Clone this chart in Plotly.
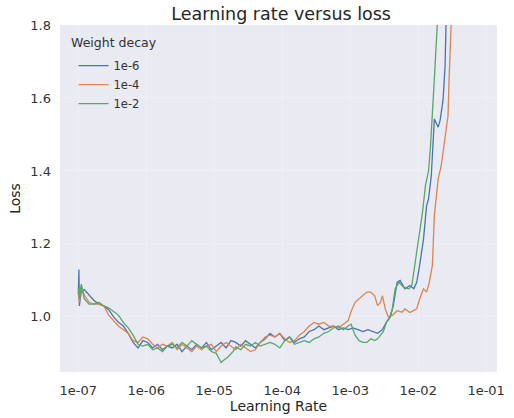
import plotly.graph_objects as go

# Learning-rate sweep (x) and smoothed loss (y)
lr_1e6 = [1.00e-07, 1.02e-07, 1.034e-07, 1.105e-07, 1.22e-07, 1.44e-07, 1.70e-07, 2.005e-07, 2.37e-07, 2.79e-07,
          3.30e-07, 3.89e-07, 4.59e-07, 5.42e-07, 6.39e-07, 7.55e-07, 8.91e-07, 1.05e-06, 1.24e-06, 1.46e-06,
          1.73e-06, 2.04e-06, 2.41e-06, 2.84e-06, 3.35e-06, 3.96e-06, 4.67e-06, 5.51e-06, 6.50e-06, 7.67e-06,
          9.05e-06, 1.07e-05, 1.26e-05, 1.49e-05, 1.76e-05, 2.07e-05, 2.45e-05, 2.89e-05, 3.41e-05, 4.02e-05,
          4.75e-05, 5.60e-05, 6.61e-05, 7.80e-05, 9.20e-05, 1.09e-04, 1.28e-04, 1.51e-04, 1.79e-04, 2.11e-04,
          2.49e-04, 2.94e-04, 3.46e-04, 4.09e-04, 4.83e-04, 5.69e-04, 6.72e-04, 7.93e-04, 9.36e-04, 1.10e-03,
          1.30e-03, 1.54e-03, 1.82e-03, 2.14e-03, 2.53e-03, 2.98e-03, 3.52e-03, 3.89e-03, 4.30e-03, 4.91e-03,
          5.42e-03, 6.39e-03, 7.55e-03, 8.62e-03, 9.52e-03, 1.05e-02, 1.20e-02, 1.33e-02, 1.42e-02, 1.56e-02,
          1.73e-02, 1.97e-02, 2.11e-02, 2.33e-02, 2.49e-02, 2.57e-02, 2.75e-02]
loss_1e6 = [1.06, 1.13, 1.03, 1.07, 1.075, 1.06, 1.045, 1.035, 1.03, 1.02,
            1.00, 0.985, 0.975, 0.955, 0.93, 0.915, 0.935, 0.93, 0.915, 0.925,
            0.91, 0.92, 0.915, 0.925, 0.905, 0.92, 0.91, 0.925, 0.915, 0.93,
            0.91, 0.92, 0.93, 0.915, 0.935, 0.93, 0.92, 0.935, 0.925, 0.915,
            0.93, 0.94, 0.955, 0.945, 0.955, 0.935, 0.945, 0.93, 0.94, 0.945,
            0.96, 0.965, 0.975, 0.965, 0.97, 0.975, 0.965, 0.97, 0.965, 0.97,
            0.965, 0.96, 0.965, 0.96, 0.955, 0.965, 0.99, 1.00, 1.03, 1.095,
            1.10, 1.077, 1.086, 1.077, 1.095, 1.141, 1.214, 1.305, 1.323, 1.387,
            1.542, 1.52, 1.54, 1.597, 1.689, 1.80, 2.00]

lr_1e4 = [1.00e-07, 1.034e-07, 1.105e-07, 1.22e-07, 1.44e-07, 1.70e-07, 2.005e-07, 2.37e-07, 2.79e-07,
          3.30e-07, 3.89e-07, 4.59e-07, 5.42e-07, 6.39e-07, 7.55e-07, 8.91e-07, 1.05e-06, 1.24e-06, 1.46e-06,
          1.73e-06, 2.04e-06, 2.41e-06, 2.84e-06, 3.35e-06, 3.96e-06, 4.67e-06, 5.51e-06, 6.50e-06, 7.67e-06,
          9.05e-06, 1.07e-05, 1.26e-05, 1.49e-05, 1.76e-05, 2.07e-05, 2.45e-05, 2.89e-05, 3.41e-05, 4.02e-05,
          4.75e-05, 5.60e-05, 6.61e-05, 7.80e-05, 9.20e-05, 1.09e-04, 1.28e-04, 1.51e-04, 1.79e-04, 2.11e-04,
          2.49e-04, 2.94e-04, 3.46e-04, 4.09e-04, 4.83e-04, 5.69e-04, 6.72e-04, 7.93e-04, 9.36e-04, 1.03e-03,
          1.18e-03, 1.35e-03, 1.54e-03, 1.76e-03, 2.01e-03, 2.29e-03, 2.53e-03, 2.79e-03, 2.98e-03, 3.30e-03,
          3.64e-03, 4.16e-03, 4.91e-03, 5.79e-03, 6.39e-03, 7.55e-03, 8.62e-03, 9.52e-03, 1.05e-02, 1.20e-02,
          1.33e-02, 1.46e-02, 1.62e-02, 1.73e-02, 1.97e-02, 2.18e-02, 2.33e-02, 2.49e-02, 2.75e-02, 2.84e-02,
          3.14e-02, 3.35e-02]
loss_1e4 = [1.07, 1.04, 1.085, 1.06, 1.04, 1.035, 1.035, 1.03, 1.005,
            0.99, 0.975, 0.965, 0.955, 0.935, 0.93, 0.945, 0.94, 0.925, 0.915,
            0.925, 0.92, 0.93, 0.91, 0.925, 0.915, 0.905, 0.92, 0.91, 0.92,
            0.925, 0.905, 0.92, 0.93, 0.92, 0.91, 0.925, 0.915, 0.905, 0.91,
            0.93, 0.945, 0.95, 0.945, 0.955, 0.94, 0.93, 0.935, 0.95, 0.96,
            0.975, 0.985, 0.98, 0.985, 0.975, 0.975, 0.97, 0.98, 0.99, 1.015,
            1.04, 1.05, 1.058, 1.068, 1.068, 1.058, 1.031, 1.04, 1.058, 1.02,
            1.00, 1.004, 1.017, 1.013, 1.022, 1.012, 1.018, 1.022, 1.049, 1.077,
            1.068, 1.095, 1.141, 1.277, 1.378, 1.414, 1.452, 1.488, 1.551, 1.643,
            1.80, 2.00]

lr_1e2 = [1.00e-07, 1.034e-07, 1.105e-07, 1.22e-07, 1.44e-07, 1.70e-07, 2.005e-07, 2.37e-07, 2.79e-07,
          3.30e-07, 3.89e-07, 4.59e-07, 5.42e-07, 6.39e-07, 7.55e-07, 8.91e-07, 1.05e-06, 1.24e-06, 1.46e-06,
          1.73e-06, 2.04e-06, 2.41e-06, 2.84e-06, 3.35e-06, 3.96e-06, 4.67e-06, 5.51e-06, 6.50e-06, 7.67e-06,
          9.05e-06, 1.07e-05, 1.26e-05, 1.39e-05, 1.59e-05, 1.88e-05, 2.07e-05, 2.45e-05, 2.89e-05, 3.41e-05,
          4.02e-05, 4.75e-05, 5.60e-05, 6.61e-05, 7.80e-05, 9.20e-05, 1.09e-04, 1.28e-04, 1.51e-04, 1.79e-04,
          2.11e-04, 2.49e-04, 2.94e-04, 3.46e-04, 4.09e-04, 4.83e-04, 5.69e-04, 6.72e-04, 7.93e-04, 9.36e-04,
          1.03e-03, 1.18e-03, 1.35e-03, 1.54e-03, 1.76e-03, 2.01e-03, 2.29e-03, 2.53e-03, 2.79e-03, 3.08e-03,
          3.41e-03, 3.76e-03, 4.16e-03, 4.59e-03, 5.24e-03, 6.19e-03, 7.30e-03, 8.06e-03, 8.62e-03, 9.52e-03,
          1.05e-02, 1.16e-02, 1.28e-02, 1.42e-02, 1.51e-02, 1.62e-02, 1.73e-02, 1.91e-02, 2.04e-02]
loss_1e2 = [1.08, 1.05, 1.09, 1.05, 1.035, 1.035, 1.04, 1.03, 1.025,
            1.015, 1.005, 0.985, 0.97, 0.95, 0.925, 0.92, 0.925, 0.91, 0.915,
            0.905, 0.92, 0.925, 0.915, 0.93, 0.92, 0.935, 0.925, 0.915, 0.92,
            0.905, 0.90, 0.875, 0.882, 0.89, 0.905, 0.918, 0.91, 0.925, 0.92,
            0.93, 0.92, 0.925, 0.93, 0.925, 0.915, 0.935, 0.945, 0.925, 0.93,
            0.935, 0.93, 0.94, 0.945, 0.955, 0.96, 0.97, 0.975, 0.965, 0.975,
            0.98, 0.95, 0.935, 0.93, 0.93, 0.94, 0.935, 0.94, 0.95, 0.96,
            0.985, 0.995, 1.022, 1.077, 1.095, 1.08, 1.077, 1.086, 1.123, 1.177,
            1.232, 1.287, 1.36, 1.40, 1.46, 1.551, 1.652, 1.80, 2.00]

series_names = ["1e-6", "1e-4", "1e-2"]
series_colors = ["#4C72B0", "#DD8452", "#55A868"]
x_tickvals = [1e-07, 1e-06, 1e-05, 1e-04, 1e-03, 1e-02, 1e-01]
x_ticktext = ["1e-07", "1e-06", "1e-05", "1e-04", "1e-03", "1e-02", "1e-01"]
y_tickvals = [1.0, 1.2, 1.4, 1.6, 1.8]
y_ticktext = ["1.0", "1.2", "1.4", "1.6", "1.8"]

fig = go.Figure()
for xs, ys, name, color in zip([lr_1e6, lr_1e4, lr_1e2], [loss_1e6, loss_1e4, loss_1e2],
                                series_names, series_colors):
    fig.add_trace(go.Scatter(x=xs, y=ys, mode="lines", name=name,
                             line=dict(color=color, width=1.3)))

font_family = "DejaVu Sans"
fig.update_layout(
    width=514, height=418,
    margin=dict(l=60, r=9, t=25, b=45),
    paper_bgcolor="white",
    plot_bgcolor="#EAEAF2",
    font=dict(family=font_family, size=12, color="#333333"),
    title=dict(text="Learning rate versus loss", x=0.547, xanchor="center",
               y=0.968, yanchor="middle", font=dict(size=17.5, color="#262626")),
    showlegend=True,
    legend=dict(
        x=0.031, y=0.925, xanchor="left", yanchor="top",
        bgcolor="rgba(0,0,0,0)", borderwidth=0,
        font=dict(size=11.5, color="#333333"),
        itemwidth=30, tracegroupgap=0,
    ),
    annotations=[dict(text="Weight decay", xref="paper", yref="paper",
                      x=0.02, y=0.95, xanchor="left", yanchor="middle",
                      showarrow=False, font=dict(size=12.5, color="#333333"))],
)
fig.update_xaxes(
    type="log", range=[-7.27, -0.84],
    tickvals=x_tickvals, ticktext=x_ticktext,
    showgrid=True, gridcolor="rgba(255,255,255,0.25)", gridwidth=1,
    zeroline=False, showline=False, ticks="",
    tickfont=dict(size=13, color="#333333"), ticklabelstandoff=9,
    title=dict(text="Learning Rate", font=dict(size=14, color="#262626"), standoff=1),
)
fig.update_yaxes(
    range=[0.849, 1.8],
    tickvals=y_tickvals, ticktext=y_ticktext,
    showgrid=True, gridcolor="rgba(255,255,255,0.25)", gridwidth=1,
    zeroline=False, showline=False, ticks="",
    tickfont=dict(size=13, color="#333333"), ticklabelstandoff=8,
    title=dict(text="Loss", font=dict(size=14, color="#262626"), standoff=6),
)

fig.write_html("out.html")
